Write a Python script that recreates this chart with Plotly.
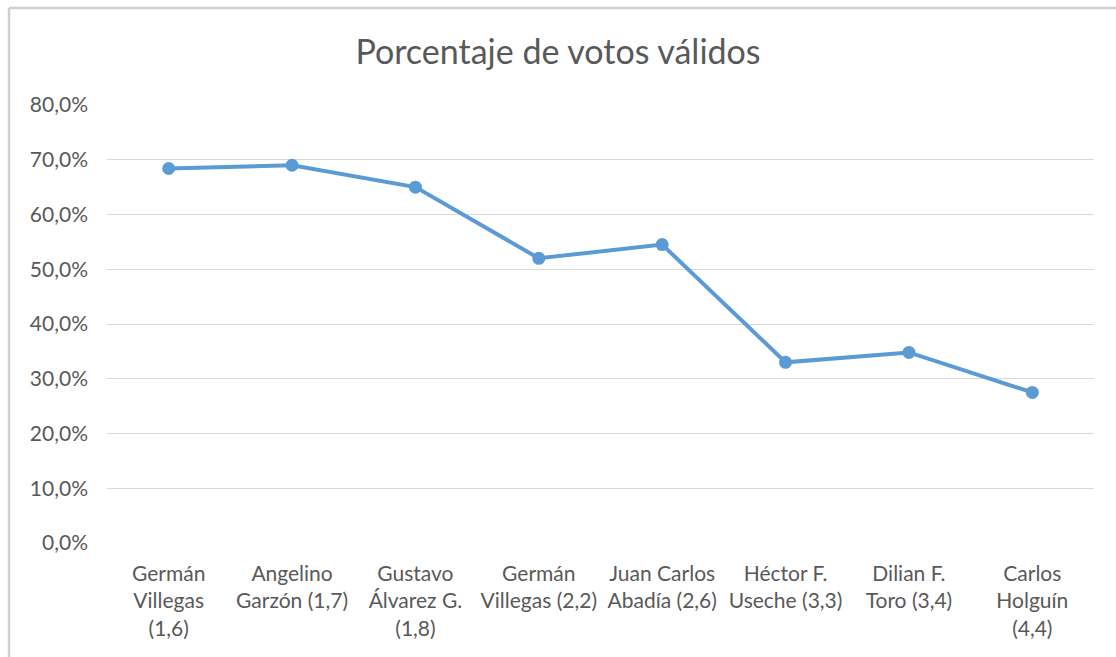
import plotly.graph_objects as go

categories = [
    "Germán<br>Villegas<br>(1,6)",
    "Angelino<br>Garzón (1,7)",
    "Gustavo<br>Álvarez G.<br>(1,8)",
    "Germán<br>Villegas (2,2)",
    "Juan Carlos<br>Abadía (2,6)",
    "Héctor F.<br>Useche (3,3)",
    "Dilian F.<br>Toro (3,4)",
    "Carlos<br>Holguín<br>(4,4)",
]
values = [68.4, 69.0, 65.0, 52.0, 54.5, 33.0, 34.8, 27.5]
y_ticks = [0, 10, 20, 30, 40, 50, 60, 70, 80]
y_labels = ["0,0%", "10,0%", "20,0%", "30,0%", "40,0%", "50,0%", "60,0%", "70,0%", "80,0%"]

x_idx = list(range(len(categories)))

fig = go.Figure()
fig.add_trace(go.Scatter(
    x=x_idx, y=values, mode="lines+markers",
    line=dict(color="#5b9bd5", width=4),
    marker=dict(color="#5b9bd5", size=13),
    hoverinfo="skip",
))

fig.update_layout(
    width=1116, height=657,
    paper_bgcolor="white", plot_bgcolor="white",
    margin=dict(l=107, r=22, t=105, b=114, autoexpand=False),
    showlegend=False,
    font=dict(family="Lato, sans-serif", color="#595959", size=21),
    title=dict(text="Porcentaje de votos válidos", x=0.5, xanchor="center",
               y=1 - 52 / 657, yanchor="middle",
               font=dict(family="Lato, sans-serif", size=34, color="#595959")),
    xaxis=dict(
        range=[-0.5, len(categories) - 0.5], automargin=False,
        tickmode="array", tickvals=x_idx, ticktext=categories,
        showgrid=False, zeroline=False, showline=False,
        ticks="", ticklabelstandoff=16,
        tickfont=dict(size=21, color="#595959"),
    ),
    yaxis=dict(
        range=[0, 80], tickmode="array", tickvals=y_ticks, ticktext=y_labels,
        automargin=False,
        showgrid=True, gridcolor="#d9d9d9", gridwidth=1.3,
        zeroline=False, showline=False, ticks="",
        ticklabelstandoff=18,
        tickfont=dict(size=21, color="#595959"),
    ),
    shapes=[
        dict(type="line", xref="paper", yref="paper", x0=-98/987, x1=1.2, y0=1 + 97/438, y1=1 + 97/438,
             line=dict(color="#d0d0d0", width=2.5)),
        dict(type="line", xref="paper", yref="paper", x0=-98/987, x1=-98/987, y0=-1, y1=1 + 97/438,
             line=dict(color="#d0d0d0", width=2.5)),
    ],
)

fig.write_html("out.html", config={"displayModeBar": False},
               post_script="document.body.style.margin='0';")
